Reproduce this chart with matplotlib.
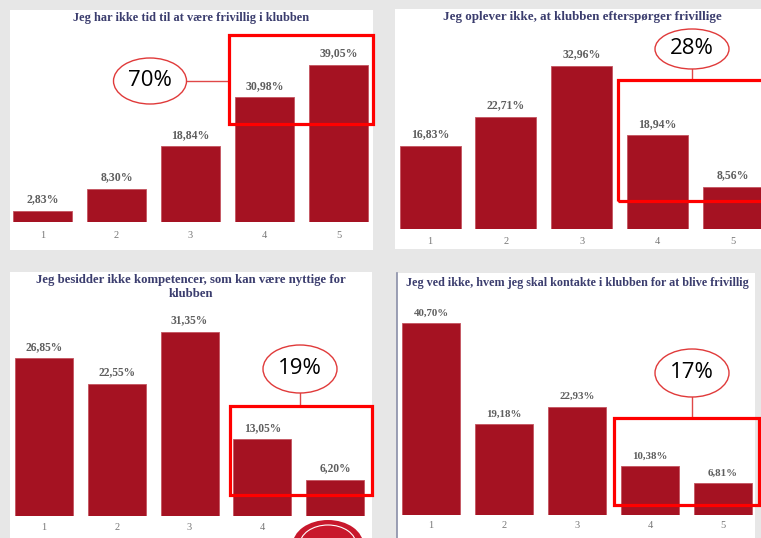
import matplotlib.pyplot as plt
from matplotlib.patches import Rectangle, Ellipse, Circle
from matplotlib.lines import Line2D

W, H = 761, 538

kategorier = ['1', '2', '3', '4', '5']

titel1 = 'Jeg har ikke tid til at være frivillig i klubben'
vaerdi1 = [2.83, 8.30, 18.84, 30.98, 39.05]
tekst1 = ['2,83%', '8,30%', '18,84%', '30,98%', '39,05%']

titel2 = 'Jeg oplever ikke, at klubben efterspørger frivillige'
vaerdi2 = [16.83, 22.71, 32.96, 18.94, 8.56]
tekst2 = ['16,83%', '22,71%', '32,96%', '18,94%', '8,56%']

titel3 = 'Jeg besidder ikke kompetencer, som kan være nyttige for\nklubben'
vaerdi3 = [26.85, 22.55, 31.35, 13.05, 6.20]
tekst3 = ['26,85%', '22,55%', '31,35%', '13,05%', '6,20%']

titel4 = 'Jeg ved ikke, hvem jeg skal kontakte i klubben for at blive frivillig'
vaerdi4 = [40.70, 19.18, 22.93, 10.38, 6.81]
tekst4 = ['40,70%', '19,18%', '22,93%', '10,38%', '6,81%']

samlet = ['70%', '28%', '19%', '17%']

BAR = '#a51222'
TITLE_C = '#3b3d6e'
LAB_C = '#5e5e5e'
SERIF = 'Liberation Serif'

fig = plt.figure(figsize=(W / 100, H / 100), dpi=100, facecolor='#e7e7e7')


def fx(x):
    return x / W


def fy(y):
    return 1 - y / H


def rect_px(x0, y0, x1, y1, **kw):
    r = Rectangle((fx(x0), fy(y1)), fx(x1 - x0), (y1 - y0) / H,
                  transform=fig.transFigure, **kw)
    fig.patches.append(r)
    return r


def panel(box, c1, step, bw, base, ppu, top, vals, labels, fs, tick_y):
    # hvid baggrund
    rect_px(*box, facecolor='white', edgecolor='none', zorder=-2)
    left = c1 - step / 2
    ax = fig.add_axes([fx(left), fy(base), fx(5 * step), (base - top) / H])
    ax.set_facecolor('none')
    x = range(1, 6)
    ax.bar(x, vals, width=bw / step, color=BAR, edgecolor='#c4545f', linewidth=0.6)
    ax.set_xlim(0.5, 5.5)
    ax.set_ylim(0, (base - top) / ppu)
    for i, (v, t) in enumerate(zip(vals, labels)):
        ax.annotate(t, (i + 1, v), xytext=(0, 4), textcoords='offset points',
                    ha='center', va='bottom', fontsize=fs, fontweight='bold',
                    color=LAB_C, family=SERIF)
    for s in ax.spines.values():
        s.set_visible(False)
    ax.set_yticks([])
    ax.set_xticks([])
    for i, k in enumerate(kategorier):
        ax.text(i + 1, -(tick_y - base) / (base - top), k,
                transform=ax.get_xaxis_transform(), ha='center',
                va='center', fontsize=7.5, color='#777777', family=SERIF)
    return ax


def callout(box, ell, txt, link):
    rect_px(*box, facecolor='none', edgecolor='#ff0000', linewidth=2.3, zorder=3)
    fig.add_artist(Line2D([fx(link[0]), fx(link[2])], [fy(link[1]), fy(link[3])],
                          transform=fig.transFigure, color='#e04848', lw=1.0, zorder=3))
    e = Ellipse((fx(ell[0]), fy(ell[1])), fx(ell[2]), ell[3] / H,
                transform=fig.transFigure, facecolor='white', edgecolor='#e03a3a',
                linewidth=1.0, zorder=4)
    fig.patches.append(e)
    fig.text(fx(ell[0]), fy(ell[1]), txt, ha='center', va='center', fontsize=16,
             family='Open Sans', color='black', zorder=5)


# panel 1
panel((10, 10, 373, 250), 42.5, 74, 59, 222, 4.02, 30, vaerdi1, tekst1, 8.5, 236)
fig.text(fx(191), fy(18), titel1, ha='center', va='center', fontsize=8.9,
         fontweight='bold', color=TITLE_C, family=SERIF)
callout((229, 35, 373, 124), (150, 81, 73, 46), samlet[0], (187, 81, 229, 81))

# panel 2
panel((395, 9, 761, 249), 430, 75.8, 61, 229, 4.95, 30, vaerdi2, tekst2, 8.5, 242)
fig.text(fx(582), fy(17), titel2, ha='center', va='center', fontsize=9.4,
         fontweight='bold', color=TITLE_C, family=SERIF)
callout((618, 80, 775, 201), (692, 49, 74, 40), samlet[1], (692, 69, 692, 80))

# panel 3
panel((10, 272, 372, 540), 44, 72.75, 58, 516, 5.87, 310, vaerdi3, tekst3, 8.3, 527)
fig.text(fx(191), fy(287), titel3, ha='center', va='center', fontsize=9.2,
         fontweight='bold', color=TITLE_C, family=SERIF, linespacing=1.25)
callout((230, 406, 372, 495), (300, 369, 74, 48), samlet[2], (300, 393, 300, 406))

# logo nederst til hoejre i panel 3
fig.patches.append(Circle((fx(328), fy(545)), 25 / H, transform=fig.transFigure,
                          facecolor='#c8182c', edgecolor='none', zorder=1))
fig.patches.append(Circle((fx(328), fy(545)), 20 / H, transform=fig.transFigure,
                          facecolor='none', edgecolor='white', lw=0.8, zorder=1))

# panel 4
panel((397, 273, 755, 540), 431, 73, 58, 515, 4.72, 300, vaerdi4, tekst4, 7.8, 525)
fig.add_artist(Line2D([fx(397), fx(397)], [fy(273), fy(538)], transform=fig.transFigure,
                      color='#8a8fa8', lw=1.2))
fig.text(fx(577), fy(283), titel4, ha='center', va='center', fontsize=8.7,
         fontweight='bold', color=TITLE_C, family=SERIF)
callout((614, 418, 759, 505), (692, 373, 74, 48), samlet[3], (692, 397, 692, 418))

fig.savefig('out.png', dpi=100, facecolor=fig.get_facecolor())
